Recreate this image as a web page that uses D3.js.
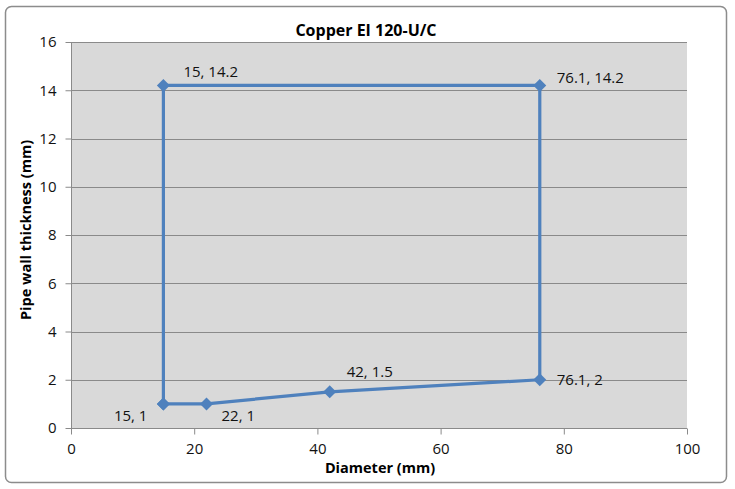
<!DOCTYPE html>
<html><head><meta charset="utf-8">
<script src="https://cdn.jsdelivr.net/npm/d3@7"></script>
<style>body{margin:0;background:#fff}text{font-family:"Open Sans","Liberation Sans",sans-serif}</style>
</head><body><svg id="c" width="735" height="489"></svg>
<script>
const xVals=[15,22,42,76.1,76.1,15,15];
const yVals=[1,1,1.5,2,14.2,14.2,1];
const labels=["15, 1","22, 1","42, 1.5","76.1, 2","76.1, 14.2","15, 14.2",""];
const labelPos=["bl","br","tr","r","r2","tr2",""];
const xTicks=[0,20,40,60,80,100];
const yTicks=[0,2,4,6,8,10,12,14,16];
const title="Copper EI 120-U/C", xTitle="Diameter (mm)", yTitle="Pipe wall thickness  (mm)";

const svg=d3.select("#c");
svg.append("rect").attr("x",5.5).attr("y",6.5).attr("width",721).attr("height",476).attr("rx",6)
  .attr("fill","#fff").attr("stroke","#8c8c8c").attr("stroke-width",1.5);
const L=71,R=687,T=42,B=428;
const x=d3.scaleLinear().domain([0,100]).range([L,R]);
const y=d3.scaleLinear().domain([0,16]).range([B,T]);
svg.append("rect").attr("x",L).attr("y",T).attr("width",R-L).attr("height",B-T).attr("fill","#d9d9d9");
svg.append("g").selectAll("line").data(yTicks.slice(1)).join("line")
  .attr("x1",L).attr("x2",R).attr("y1",d=>Math.round(y(d))+0.5).attr("y2",d=>Math.round(y(d))+0.5)
  .attr("stroke","#8a8a8a").attr("stroke-width",1);
const ya=svg.append("g").attr("transform",`translate(${L+0.5},0)`).call(d3.axisLeft(y).tickValues(yTicks).tickSize(6).tickPadding(9));
const xa=svg.append("g").attr("transform",`translate(0,${B+0.5})`).call(d3.axisBottom(x).tickValues(xTicks).tickSize(6).tickPadding(9));
[ya,xa].forEach(a=>{a.selectAll("path,line").attr("stroke","#8a8a8a");a.selectAll("text").attr("font-size",15).attr("fill","#111");a.select(".domain").attr("d",null);});
ya.append("line").attr("y1",T).attr("y2",B).attr("stroke","#8a8a8a");
xa.append("line").attr("x1",L).attr("x2",R).attr("stroke","#8a8a8a");

const pts=xVals.map((v,i)=>[v,yVals[i]]);
svg.append("path").datum(pts).attr("d",d3.line().x(d=>x(d[0])).y(d=>y(d[1])))
  .attr("fill","none").attr("stroke","#4f81bd").attr("stroke-width",3.2).attr("stroke-linejoin","round");
svg.append("g").selectAll("path").data(pts).join("path")
  .attr("transform",d=>`translate(${x(d[0])},${y(d[1])})`)
  .attr("d","M0,-6.5L6.5,0L0,6.5L-6.5,0Z").attr("fill","#4f81bd");
const off={bl:[-16,17,"end"],br:[15,17,"start"],tr:[17,-15,"start"],r:[17,5,"start"],r2:[17,-2,"start"],tr2:[20,-8,"start"]};
svg.append("g").selectAll("text").data(pts.filter((d,i)=>labels[i])).join("text")
  .each(function(d,i){const o=off[labelPos[i]];d3.select(this).attr("x",x(d[0])+o[0]).attr("y",y(d[1])+o[1]).attr("text-anchor",o[2]);})
  .attr("font-size",15).attr("fill","#111").text((d,i)=>labels[i]);
svg.append("text").attr("x",366).attr("y",36).attr("text-anchor","middle").attr("font-size",16).attr("font-weight","bold").text(title);
svg.append("text").attr("x",380).attr("y",473).attr("text-anchor","middle").attr("font-size",14.5).attr("font-weight","bold").text(xTitle);
svg.append("text").attr("transform","translate(31,230) rotate(-90)").attr("text-anchor","middle").attr("font-size",14.5).attr("font-weight","bold").text(yTitle);
</script></body></html>
